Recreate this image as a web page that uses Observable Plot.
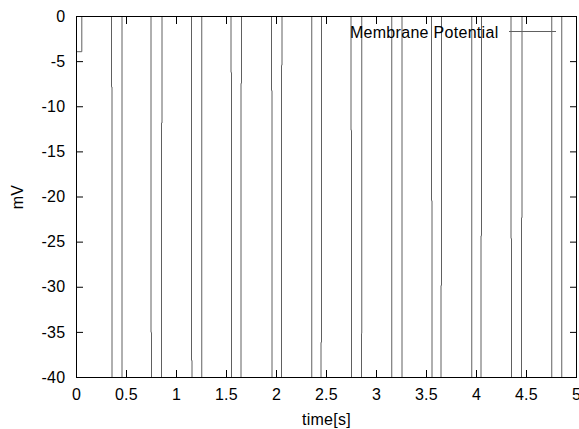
<!DOCTYPE html>
<html><head><meta charset="utf-8">
<script src="https://cdn.jsdelivr.net/npm/d3@7"></script>
<script src="https://cdn.jsdelivr.net/npm/@observablehq/plot@0.6"></script>
<style>html,body{margin:0;padding:0;background:#fff;}</style>
</head><body><div id="chart"></div>
<script>
// Membrane potential samples (time in s, potential in mV)
const time = [0, 0.053, 0.350, 0.355, 0.455, 0.745, 0.750, 0.850, 0.855, 1.150, 1.155, 1.2525,
  1.545, 1.550, 1.645, 1.650, 1.950, 1.955, 2.050, 2.055, 2.3525, 2.445, 2.450, 2.745, 2.750,
  2.850, 2.8525, 3.1525, 3.255, 3.550, 3.555, 3.645, 3.650, 3.9525, 4.045, 4.050, 4.345, 4.350,
  4.450, 4.455, 4.7525, 4.8525, 5];
const potential = [-3.9, 0, -7.8, -40, 0, -35.0, -40, -11.8, 0, -38.1, -40, 0,
  -6.2, -40, -7.4, 0, -8.2, -40, -5.4, 0, -40, -36.1, 0, -12.6, -40,
  -35.1, 0, -40, 0, -20.4, -40, -29.8, 0, -40, -24.3, 0, -24.6, -40,
  -22.3, 0, -40, 0, 0];
const xTicks = [0, 0.5, 1, 1.5, 2, 2.5, 3, 3.5, 4, 4.5, 5];
const xTickLabels = ["0", "0.5", "1", "1.5", "2", "2.5", "3", "3.5", "4", "4.5", "5"];
const yTicks = [0, -5, -10, -15, -20, -25, -30, -35, -40];
const yTickLabels = ["0", "-5", "-10", "-15", "-20", "-25", "-30", "-35", "-40"];
const seriesName = "Membrane Potential";
const xLabel = "time[s]";
const yLabel = "mV";

const data = time.map((t, i) => ({t, v: potential[i]}));
const lineColor = "#606060";
const fx = d => xTickLabels[xTicks.indexOf(d)];
const fy = d => yTickLabels[yTicks.indexOf(d)];

const chart = Plot.plot({
  width: 579, height: 429,
  marginLeft: 76, marginRight: 3, marginTop: 16, marginBottom: 52,
  x: {domain: [0, 5], label: null},
  y: {domain: [-40, 0], label: null},
  style: {fontFamily: "'Liberation Sans', Arial, sans-serif", fontSize: "16px", letterSpacing: "0.3px", background: "#fff", color: "#000"},
  marks: [
    Plot.lineY(data, {x: "t", y: "v", curve: "step-after", stroke: lineColor, strokeWidth: 1}),
    // tick labels
    Plot.axisX({anchor: "bottom", ticks: xTicks, tickSize: 0, tickPadding: 11, tickFormat: fx, label: null}),
    Plot.axisY({anchor: "left", ticks: yTicks, tickSize: 0, tickPadding: 11, tickFormat: fy, label: null}),
    // inward ticks on all four sides
    Plot.axisX({anchor: "bottom", ticks: xTicks, tickSize: -7, tickFormat: () => "", label: null}),
    Plot.axisX({anchor: "top", ticks: xTicks, tickSize: -7, tickFormat: () => "", label: null}),
    Plot.axisY({anchor: "left", ticks: yTicks, tickSize: -7, tickFormat: () => "", label: null}),
    Plot.axisY({anchor: "right", ticks: yTicks, tickSize: -7, tickFormat: () => "", label: null}),
    // axis titles
    Plot.text([xLabel], {text: d => d, frameAnchor: "bottom", dy: 36, lineAnchor: "top", fill: "#000"}),
    Plot.text([yLabel], {text: d => d, frameAnchor: "left", dx: -59, rotate: -90, textAnchor: "middle", lineAnchor: "middle", fill: "#000"}),
    // legend
    Plot.text([seriesName], {text: d => d, frameAnchor: "top-right", dx: -78, dy: 16, textAnchor: "end", lineAnchor: "middle", fill: "#000"}),
    Plot.ruleY([0], {dy: 15, insetLeft: 433, insetRight: 20, stroke: lineColor, strokeWidth: 1}),
    Plot.frame({stroke: "#000", strokeWidth: 1})
  ]
});
document.getElementById("chart").appendChild(chart);
</script>
</body></html>
